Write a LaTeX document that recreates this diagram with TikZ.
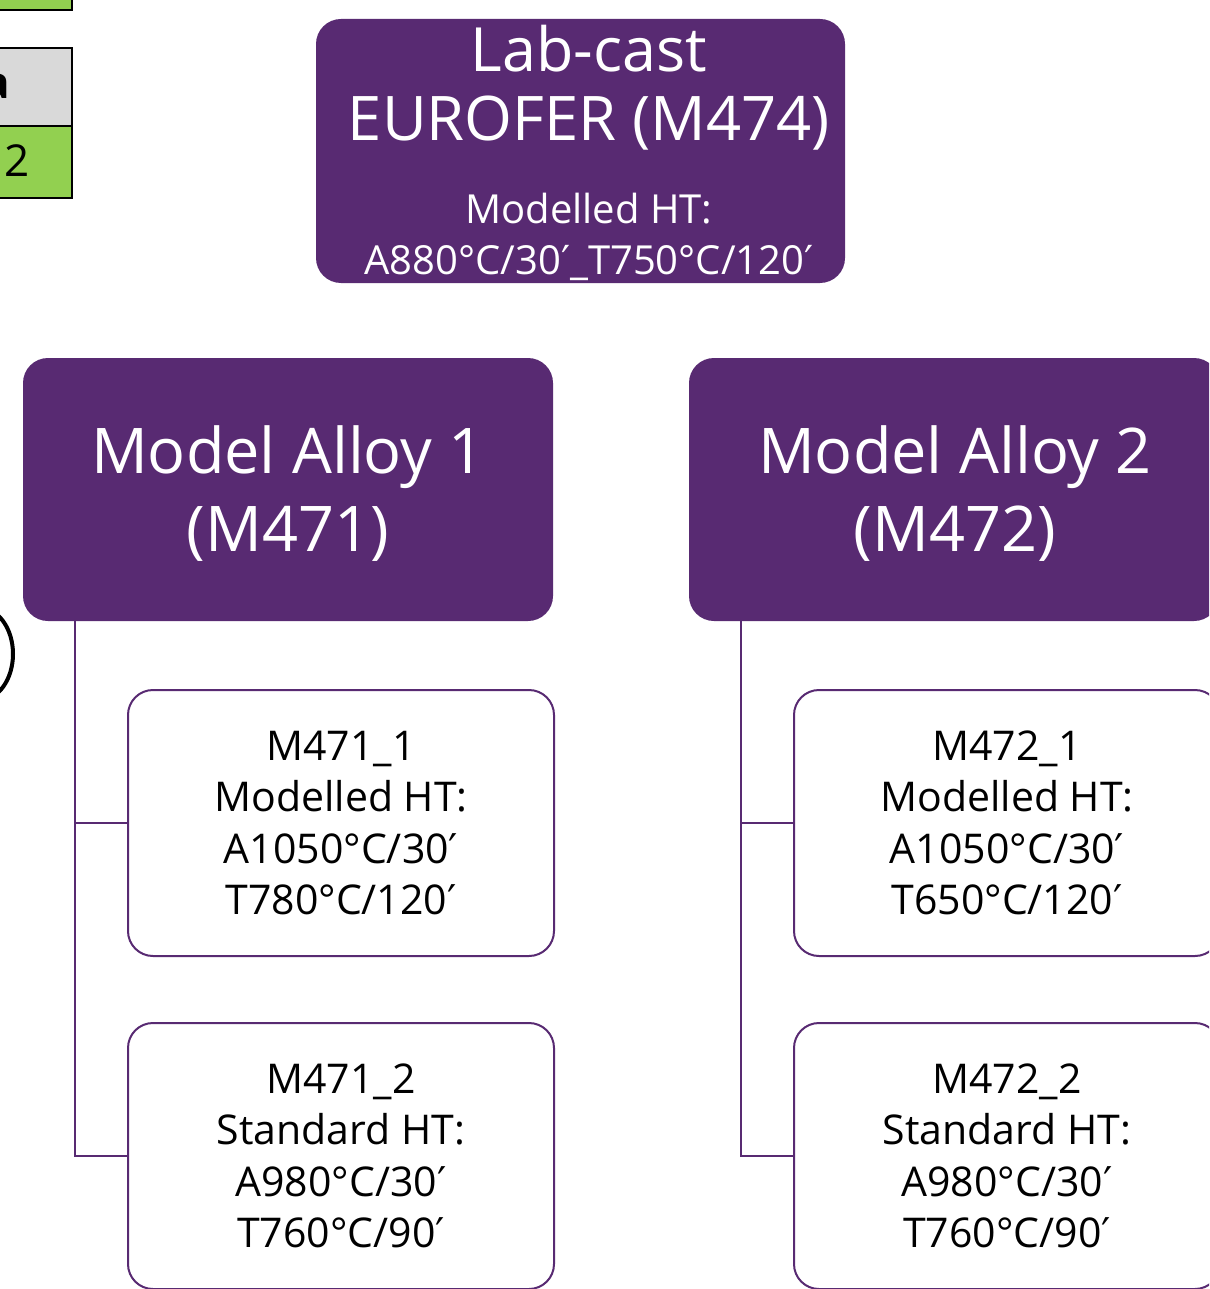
\documentclass[tikz,border=0pt]{standalone}
\usepackage{fontspec}
\setmainfont{Open Sans}
\newfontfamily\primefont{DejaVu Sans}
\newcommand{\pr}{{\primefont ′}}
\definecolor{purp}{HTML}{582A72}
\definecolor{lgreen}{HTML}{92D050}
\definecolor{lgray}{HTML}{D9D9D9}
\tikzset{
  headbox/.style={fill=purp, draw=none, rounded corners=25pt, inner sep=0pt},
  headtext/.style={text=white, align=center, inner sep=0pt},
  childbox/.style={fill=white, draw=purp, line width=2pt, rounded corners=25pt, text=black, align=center, inner sep=0pt,
     minimum width=426pt, minimum height=266pt, font=\fontsize{41}{51.5}\selectfont},
  link/.style={draw=purp, line width=2pt},
  cell/.style={draw=black, line width=2pt, inner sep=0pt}
}
\begin{document}
\begin{tikzpicture}[x=1pt,y=-1pt]
\clip (0,0) rectangle (1209,1289);
\useasboundingbox (0,0) rectangle (1209,1289);
\fill[white] (0,0) rectangle (1209,1289);
% left fragments
\node[cell, fill=lgreen, minimum width=100pt, minimum height=60pt, anchor=south east] (g0) at (73,11) {};
\node[cell, fill=lgray, minimum width=100pt, minimum height=78pt, anchor=north east] (g1) at (73,47) {};
\node[cell, fill=lgreen, minimum width=100pt, minimum height=72pt, anchor=north east] (g2) at (73,125) {};
\node[anchor=east, font=\fontsize{44}{50}\selectfont\bfseries] (ta) at (14,86) {a};
\node[font=\fontsize{44}{50}\selectfont] (t2) at (17,161) {2};
\draw[line width=4pt] (-20,654) ellipse [x radius=33, y radius=46];
% top
\node[headbox, minimum width=529pt, minimum height=264pt] (top) at (580.5,151) {};
\node[headtext, anchor=base, font=\fontsize{61}{70}\selectfont] (topa) at (589,72) {Lab-cast};
\node[headtext, anchor=base, font=\fontsize{61.5}{70}\selectfont] (topb) at (589,141) {EUROFER (M474)};
\node[headtext, anchor=base, font=\fontsize{40}{50}\selectfont] (topc) at (589,224) {Modelled HT:};
\node[headtext, anchor=base, font=\fontsize{40}{50}\selectfont] (topd) at (589,274) {A880°C/30\pr\_T750°C/120\pr};
% model alloys
\node[headbox, minimum width=530pt, minimum height=263pt] (m1) at (288,489.5) {};
\node[headtext, font=\fontsize{63}{78}\selectfont] (m1t) at (288,494) {Model Alloy 1\\(M471)};
\node[headbox, minimum width=530pt, minimum height=263pt] (m2) at (954,489.5) {};
\node[headtext, font=\fontsize{63}{78}\selectfont] (m2t) at (955,494) {Model Alloy 2\\(M472)};
% children
\node[childbox] (c11) at (341,823) {M471\_1\\Modelled HT:\\A1050°C/30\pr\\T780°C/120\pr};
\node[childbox] (c12) at (341,1156) {M471\_2\\Standard HT:\\A980°C/30\pr\\T760°C/90\pr};
\node[childbox] (c21) at (1007,823) {M472\_1\\Modelled HT:\\A1050°C/30\pr\\T650°C/120\pr};
\node[childbox] (c22) at (1007,1156) {M472\_2\\Standard HT:\\A980°C/30\pr\\T760°C/90\pr};
\draw[link] (m1.south west) ++(52,0) |- (c11.west);
\draw[link] (m1.south west) ++(52,0) |- (c12.west);
\draw[link] (m2.south west) ++(52,0) |- (c21.west);
\draw[link] (m2.south west) ++(52,0) |- (c22.west);
\end{tikzpicture}
\end{document}
